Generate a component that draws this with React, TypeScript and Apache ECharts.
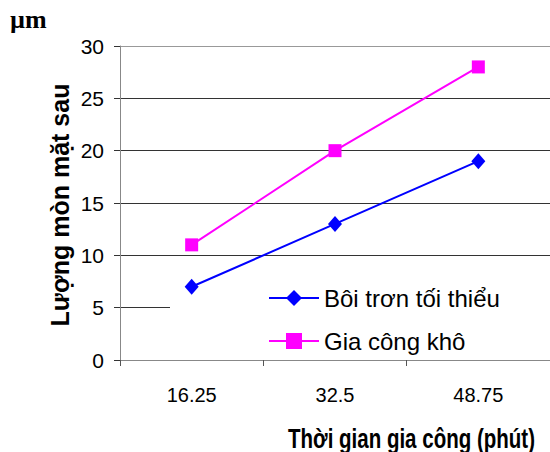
import React, { useEffect, useRef } from "react";
import * as echarts from "echarts";

const categories = ["16.25", "32.5", "48.75"];
const boiTron = [7, 13, 19];
const giaCongKho = [11, 20, 28];
const seriesNames = ["Bôi trơn tối thiểu", "Gia công khô"];
const yTitle = "Lượng mòn mặt sau";
const xTitle = "Thời gian gia công (phút)";
const unit = "µm";

const SANS = "'Liberation Sans', Arial, sans-serif";

export default function App() {
  const ref = useRef<HTMLDivElement>(null);
  useEffect(() => {
    if (!ref.current) return;
    const chart = echarts.init(ref.current, undefined, { renderer: "svg" });
    chart.setOption({
      animation: false,
      backgroundColor: "#ffffff",
      grid: { left: 120, top: 46, width: 432, height: 314, containLabel: false },
      xAxis: {
        type: "category",
        data: categories,
        boundaryGap: true,
        axisLine: { show: true, lineStyle: { color: "#888888", width: 1 } },
        axisTick: { show: true, length: 6, lineStyle: { color: "#555555" } },
        axisLabel: { color: "#000", fontFamily: SANS, fontSize: 20, margin: 25 },
        splitLine: { show: false },
      },
      yAxis: {
        type: "value",
        min: 0,
        max: 30,
        interval: 5,
        axisLine: { show: true, lineStyle: { color: "#888888", width: 1 } },
        axisTick: { show: true, length: 6, lineStyle: { color: "#333333" } },
        axisLabel: { color: "#000", fontFamily: SANS, fontSize: 21, margin: 16 },
        splitLine: {
          show: true,
          lineStyle: {
            color: ["#888888", "#333333", "#333333", "#333333", "#333333", "#333333", "#999999"],
            width: 1,
          },
        },
      },
      legend: {
        orient: "vertical",
        left: 170,
        top: 283,
        padding: [3, 50, 3, 98],
        itemWidth: 50,
        itemHeight: 20,
        itemGap: 19,
        textStyle: { color: "#000", fontFamily: SANS, fontSize: 24 },
        data: seriesNames,
      },
      graphic: [
        {
          type: "rect",
          z: 1,
          shape: { x: 170, y: 300, width: 380, height: 57 },
          style: { fill: "#ffffff" },
        },
        {
          type: "text",
          left: 10,
          top: 6,
          style: {
            text: unit,
            font: "bold 26px 'Liberation Serif', 'Times New Roman', serif",
            fill: "#000",
          },
        },
        {
          type: "text",
          x: 60,
          y: 205,
          rotation: Math.PI / 2,
          style: {
            text: yTitle,
            font: "bold 25px " + SANS,
            fill: "#000",
            align: "center",
            verticalAlign: "middle",
          },
        },
        {
          type: "text",
          x: 535,
          y: 438,
          scaleX: 0.76,
          style: {
            text: xTitle,
            font: "bold 27px " + SANS,
            fill: "#000",
            align: "right",
            verticalAlign: "middle",
          },
        },
      ],
      series: [
        {
          name: seriesNames[0],
          type: "line",
          data: boiTron,
          symbol: "diamond",
          symbolSize: [14, 16],
          z: 3,
          lineStyle: { color: "#0000ff", width: 2 },
          itemStyle: { color: "#0000ff" },
        },
        {
          name: seriesNames[1],
          type: "line",
          data: giaCongKho,
          symbol: "rect",
          symbolSize: 13,
          z: 3,
          lineStyle: { color: "#ff00ff", width: 2 },
          itemStyle: { color: "#ff00ff" },
        },
      ],
    });
    return () => chart.dispose();
  }, []);
  return <div ref={ref} style={{ width: 550, height: 452, position: "absolute", left: 0, top: 0 }} />;
}
